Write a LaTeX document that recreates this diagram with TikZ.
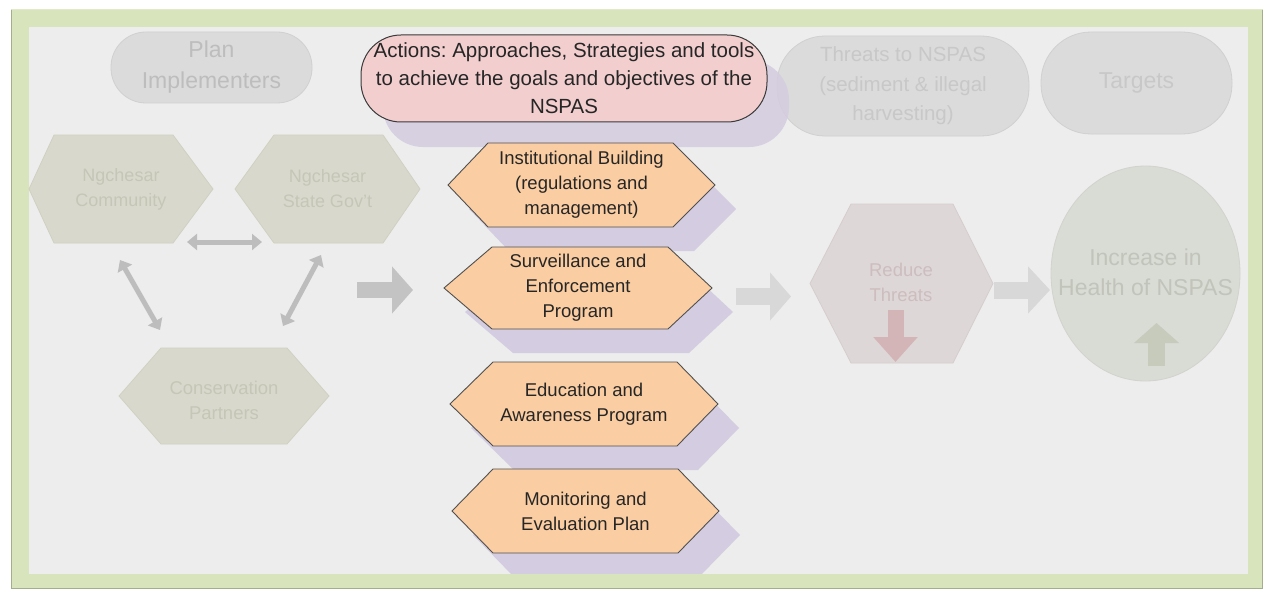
\documentclass[tikz,border=0pt]{standalone}
\usepackage{fontspec}
\setmainfont{Liberation Sans}
\usetikzlibrary{arrows.meta,shapes.geometric}
\frenchspacing
\definecolor{framegreen}{HTML}{D8E4BC}
\definecolor{frameedge}{HTML}{A3AE8F}
\definecolor{innergray}{HTML}{EDEDED}
\definecolor{stadfill}{HTML}{DBDBDB}
\definecolor{staddraw}{HTML}{D0D0D0}
\definecolor{stadtext}{HTML}{BDBDBD}
\definecolor{stadtextlight}{HTML}{C8C8C8}
\definecolor{actfill}{HTML}{F2CECE}
\definecolor{actdraw}{HTML}{3A3A3A}
\definecolor{shadowc}{HTML}{D4CCE0}
\definecolor{orangefill}{HTML}{FACDA2}
\definecolor{orangedraw}{HTML}{505050}
\definecolor{olivefill}{HTML}{D8D8CC}
\definecolor{olivedraw}{HTML}{D0D0C2}
\definecolor{olivetext}{HTML}{C6C6B7}
\definecolor{reducefill}{HTML}{DED7D8}
\definecolor{reducedraw}{HTML}{D6CDCD}
\definecolor{reducetext}{HTML}{CDBDBE}
\definecolor{reducearrow}{HTML}{D4B5B7}
\definecolor{incfill}{HTML}{D9DBD5}
\definecolor{incdraw}{HTML}{D1D3CC}
\definecolor{inctext}{HTML}{C1C4BA}
\definecolor{incarrow}{HTML}{C7CBBC}
\definecolor{blockdark}{HTML}{C3C3C3}
\definecolor{blocklight}{HTML}{D8D8D8}
\definecolor{dblarrowc}{HTML}{BDBDBD}
\newcommand\setfs[2]{\fontsize{#1}{#2}\selectfont}
% hexagon: x-left-point, x-top-left, x-top-right, x-right-point, y-top, y-mid, y-bottom, style
\newcommand\hexshape[8]{\path[#8] (#1,#6) -- (#2,#5) -- (#3,#5) -- (#4,#6) -- (#3,#7) -- (#2,#7) -- cycle;}
\begin{document}
\begin{tikzpicture}[x=1pt,y=-1pt,
  fadedstad/.style={draw=staddraw, fill=stadfill, line width=0.8pt, inner sep=0pt, align=center, text=stadtext},
  hexlabel/.style={inner sep=0pt, align=center},
  orangehex/.style={fill=orangefill, draw=orangedraw, line width=0.9pt, line join=miter},
  hexshadow/.style={fill=shadowc, shift={(21,24)}},
  olivehex/.style={fill=olivefill, draw=olivedraw, line width=0.8pt},
  blockarrow/.style={line width=16pt, -{Triangle[width=46pt,length=21pt]}},
  thinarrow/.style={draw=dblarrowc, line width=5pt, {Triangle[width=16pt,length=10pt]}-{Triangle[width=16pt,length=10pt]}},
  iconarrow/.style={line width=16pt, -{Triangle[width=43pt,length=25pt]}}
]
\useasboundingbox (0,0) rectangle (1265,591);
\fill[white] (0,0) rectangle (1265,591);
% frame
\fill[framegreen] (11,9) rectangle (1263,589);
\draw[frameedge, line width=1.2pt] (11.6,589) -- (11.6,9.6);
\draw[frameedge, line width=1.5pt] (11,588.6) -- (1262.4,588.6) -- (1262.4,9.6);
\draw[framegreen!80!white, line width=0.8pt] (11.6,9.6) -- (1262.4,9.6);
\fill[innergray] (29,27) rectangle (1248,574);

% headings
\node[fadedstad, rounded corners=35pt, minimum width=201pt, minimum height=71pt, font=\setfs{23}{31}] (impl) at (211.5,67.5) {Plan\\Implementers};
\node[fadedstad, rounded corners=48pt, minimum width=252pt, minimum height=100pt, font=\setfs{20.5}{29.5}, text=stadtextlight] (threats) at (903,86) {Threats to NSPAS\\(sediment \& illegal\\harvesting)};
\node[fadedstad, rounded corners=50pt, minimum width=191pt, minimum height=102pt, font=\setfs{23}{31}, text=stadtextlight] (targets) at (1136.5,83) {Targets};
\fill[shadowc, rounded corners=40pt, opacity=0.85] (383,60) rectangle (789,147);
\node[draw=actdraw, fill=actfill, line width=1pt, rounded corners=40pt, minimum width=406pt, minimum height=87pt, inner sep=0pt, align=center, font=\setfs{20.5}{28}, text=black!85] (act) at (564,78.5) {Actions: Approaches, Strategies and tools\\to achieve the goals and objectives of the\\NSPAS};

% implementers hexagons
\hexshape{29}{54}{173}{213}{135}{189}{243}{olivehex}
\node[hexlabel, font=\setfs{18}{25}, text=olivetext] (comm) at (121,189) {Ngchesar\\Community};
\hexshape{235}{274}{383}{420}{135}{189}{243}{olivehex}
\node[hexlabel, font=\setfs{18}{25}, text=olivetext] (gov) at (327.5,189) {Ngchesar\\State Gov't};
\hexshape{119}{161}{287}{329}{348}{396}{444}{olivehex}
\node[hexlabel, font=\setfs{18.5}{25}, text=olivetext] (cons) at (224,400) {Conservation\\Partners};

\coordinate (h1) at (187,242);
\coordinate (h2) at (262,242);
\coordinate (dl1) at (120,260);
\coordinate (dl2) at (160,330);
\coordinate (dr1) at (321,255);
\coordinate (dr2) at (283,326);
\draw[thinarrow] (h1) -- (h2);
\draw[thinarrow] (dl1) -- (dl2);
\draw[thinarrow] (dr1) -- (dr2);

% block arrow to actions
\coordinate (b1s) at (357,290);
\coordinate (b1e) at (413,290);
\draw[blockarrow, blockdark] (b1s) -- (b1e);

% orange action hexagons
\hexshape{448}{488}{673}{715}{143}{185}{227}{hexshadow}
\hexshape{448}{488}{673}{715}{143}{185}{227}{orangehex}
\node[hexlabel, font=\setfs{18.5}{25}, text=black!85] (inst) at (581.5,185) {Institutional Building\\(regulations and\\management)};
\hexshape{444}{492}{668}{712}{247}{288}{329}{hexshadow}
\hexshape{444}{492}{668}{712}{247}{288}{329}{orangehex}
\node[hexlabel, font=\setfs{18.5}{25}, text=black!85] (surv) at (578,288) {Surveillance and\\Enforcement\\Program};
\hexshape{450}{493}{677}{718}{362}{404}{446}{hexshadow}
\hexshape{450}{493}{677}{718}{362}{404}{446}{orangehex}
\node[hexlabel, font=\setfs{18.5}{25}, text=black!85] (edu) at (584,404) {Education and\\Awareness Program};
\hexshape{452}{493}{678}{719}{469}{511}{553}{hexshadow}
\hexshape{452}{493}{678}{719}{469}{511}{553}{orangehex}
\node[hexlabel, font=\setfs{18.5}{25}, text=black!85] (mon) at (585.5,511) {Monitoring and\\Evaluation Plan};
% re-draw frame bottom band over the last shadow
\fill[framegreen] (29,574) rectangle (1248,587.8);

% block arrow to reduce
\coordinate (b2s) at (736,296.5);
\coordinate (b2e) at (791,296.5);
\draw[blockarrow, blocklight, line width=17pt, -{Triangle[width=47pt,length=21pt]}] (b2s) -- (b2e);

% reduce threats
\hexshape{810}{851}{953}{993}{204}{283.5}{363}{fill=reducefill, draw=reducedraw, line width=0.8pt}
\node[hexlabel, font=\setfs{18.5}{25}, text=reducetext] (reduce) at (901,282) {Reduce\\Threats};
\coordinate (rd1) at (895.5,310);
\coordinate (rd2) at (895.5,362);
\draw[iconarrow, reducearrow] (rd1) -- (rd2);

% increase in health
\path[fill=incfill, draw=incdraw, line width=0.8pt] (1145.5,273.5) ellipse [x radius=94.5, y radius=107.5];
\node[hexlabel, font=\setfs{23}{30}, text=inctext] (inc) at (1145.5,272) {Increase in\\Health of NSPAS};
\coordinate (ia1) at (1156.5,366);
\coordinate (ia2) at (1156.5,323);
\draw[iconarrow, incarrow, line width=17pt, -{Triangle[width=44pt,length=20pt]}] (ia1) -- (ia2);

% block arrow to increase
\coordinate (b3s) at (994,290);
\coordinate (b3e) at (1050,290);
\draw[blockarrow, blocklight, line width=17pt, -{Triangle[width=46pt,length=22pt]}] (b3s) -- (b3e);
\end{tikzpicture}
\end{document}
